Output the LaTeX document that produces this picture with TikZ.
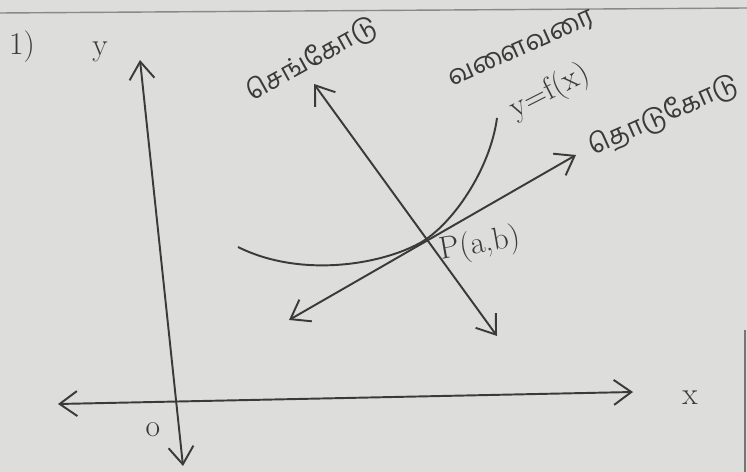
\documentclass[tikz,border=0pt]{standalone}
\usepackage{fontspec}
\newfontfamily\tamil[Script=Tamil]{Hind Madurai}
\usetikzlibrary{arrows.meta}
\definecolor{pencil}{RGB}{58,58,58}
\definecolor{paper}{RGB}{221,222,219}
\tikzstyle{arrow} = [pencil, line width=1.1pt, {Straight Barb[length=3.5mm,width=5mm]}-{Straight Barb[length=3.5mm,width=5mm]}]
\tikzstyle{txt} = [text=pencil, inner sep=0pt, font=\fontsize{18}{22}\selectfont]
\tikzstyle{tam} = [text=pencil, inner sep=0pt, font=\tamil\fontsize{15}{18}\selectfont]

\begin{document}
\begin{tikzpicture}[x=0.02cm,y=-0.02cm]
      \fill[paper] (0,0) rectangle (747,472);
      \useasboundingbox (0,0) rectangle (747,472);
      % page edges
      \draw[pencil!60, thick] (0,13)--(747,8);
      \draw[pencil!70, thick] (745,330)--(745,472);
      % axes
      \coordinate (xl) at (58,404);
      \coordinate (xr) at (633,392);
      \coordinate (yt) at (140,60);
      \coordinate (yb) at (183,466);
      \draw[arrow] (xl)--(xr);
      \draw[arrow] (yb)--(yt);
      \node[txt] (one) at (22,47) {1)};
      \node[txt] (ylab) at (100,52) {y};
      \node[txt] (xlab) at (690,398) {x};
      \node[txt] (orig) at (153,430) {o};
      % normal and tangent at P
      \coordinate (P) at (420,243);
      \coordinate (nt) at (314,84);
      \coordinate (nb) at (497,336);
      \coordinate (tl) at (289,320);
      \coordinate (tr) at (576,155);
      \draw[arrow] (nb)--(nt);
      \draw[arrow] (tl)--(tr);
      % the curve
      \coordinate (c1) at (238,247);
      \coordinate (c2) at (497,118);
      \draw[pencil, line width=1.1pt] (c1) .. controls (300,278) and (380,265) .. (P)
            .. controls (452,225) and (490,170) .. (c2);
      \node[txt, rotate=10, anchor=west] (plab) at (440,252) {P(a,b)};
      % labels
      \node[tam, rotate=29] (normal) at (312,60) {செங்கோடு};
      \node[tam, rotate=24] (curve) at (522,50) {வளைவரை};
      \node[txt, rotate=27] (fx) at (550,92) {y=f(x)};
      \node[tam, rotate=24] (tangent) at (664,116) {தொடுகோடு};
\end{tikzpicture}
\end{document}
